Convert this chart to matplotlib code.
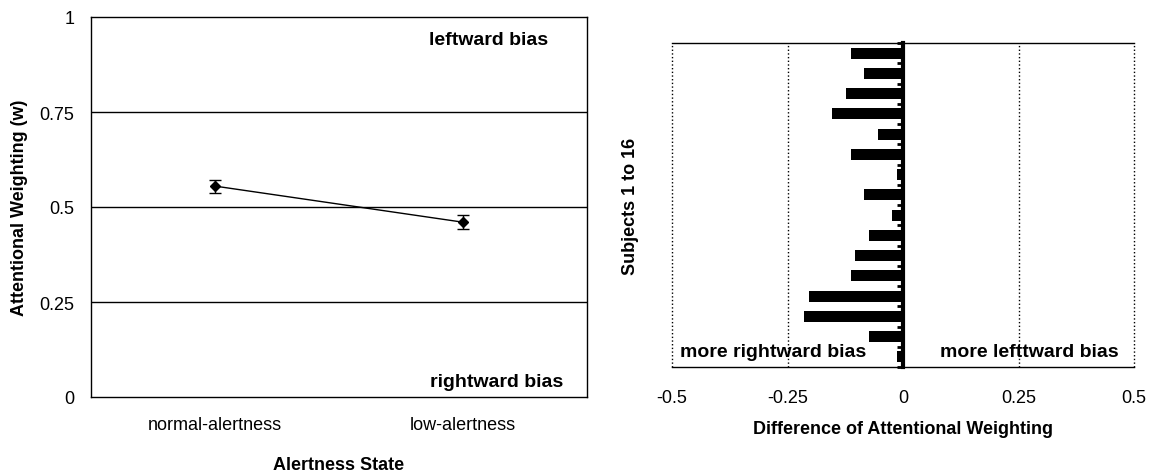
import matplotlib.pyplot as plt
import numpy as np

plt.rcParams['font.family'] = ['Liberation Sans', 'DejaVu Sans']

# left panel data
states = ['normal-alertness', 'low-alertness']
weights = [0.555, 0.46]
weight_err = [0.017, 0.018]

# right panel data (subject 1 at top, 16 at bottom)
subjects = list(range(1, 17))
differences = [-0.113, -0.084, -0.124, -0.154, -0.055, -0.113, -0.014, -0.084,
               -0.024, -0.073, -0.103, -0.113, -0.203, -0.214, -0.073, -0.014]

W, H = 1150, 477
fig = plt.figure(figsize=(W / 100, H / 100), dpi=100)

# ---- left panel ----
ax1 = fig.add_axes([91 / W, (H - 398) / H, 496 / W, 380 / H])
xpos = np.arange(1, len(states) + 1)
ax1.errorbar(xpos, weights, yerr=weight_err, color='black', marker='D',
             markersize=5.5, linewidth=1, capsize=4, capthick=1, elinewidth=1)
ax1.set_xlim(0.5, 2.5)
ax1.set_ylim(0, 1)
ax1.set_yticks([0, 0.25, 0.5, 0.75, 1])
ax1.set_yticklabels(['0', '0.25', '0.5', '0.75', '1'])
ax1.set_xticks(xpos)
ax1.set_xticklabels(states)
for yv in [0.25, 0.5, 0.75]:
    ax1.axhline(yv, color='black', linewidth=1, zorder=0)
ax1.tick_params(axis='y', length=0, pad=12, labelsize=13)
ax1.tick_params(axis='x', length=0, pad=14, labelsize=13)
for sp in ax1.spines.values():
    sp.set_linewidth(1)
ax1.set_xlabel('Alertness State', fontsize=13, fontweight='bold', labelpad=16)
ax1.set_ylabel('Attentional Weighting (w)', fontsize=13, fontweight='bold',
               labelpad=8)
ax1.text(2.104, 0.94, 'leftward bias', ha='center', va='center',
         fontsize=14, fontweight='bold')
ax1.text(2.136, 0.042, 'rightward bias', ha='center', va='center',
         fontsize=14, fontweight='bold')

# ---- right panel ----
ax2 = fig.add_axes([672 / W, (H - 368) / H, 462 / W, 324 / H])
ax2.barh(subjects, differences, height=0.55, color='black')
ax2.set_xlim(-0.5, 0.5)
ax2.set_ylim(16.5, 0.5)
ax2.set_xticks([-0.5, -0.25, 0, 0.25, 0.5])
ax2.set_xticklabels(['-0.5', '-0.25', '0', '0.25', '0.5'])
for xv in [-0.5, -0.25, 0.25, 0.5]:
    ax2.axvline(xv, linestyle=':', color='black', linewidth=1, clip_on=False,
                zorder=0)
ax2.spines['left'].set_position(('data', 0))
ax2.spines['left'].set_linewidth(3)
ax2.spines['right'].set_visible(False)
ax2.spines['top'].set_linewidth(1)
ax2.spines['bottom'].set_linewidth(1)
ax2.set_yticks(np.arange(0.5, 17, 1))
ax2.set_yticklabels([])
ax2.tick_params(axis='y', direction='out', length=4, width=2)
ax2.tick_params(axis='x', length=0, pad=16, labelsize=13)
ax2.set_xlabel('Difference of Attentional Weighting', fontsize=13,
               fontweight='bold', labelpad=10)
ax2.text(-0.281, 0.049, 'more rightward bias', transform=ax2.get_xaxis_transform(),
         ha='center', va='center', fontsize=14, fontweight='bold')
ax2.text(0.274, 0.049, 'more lefttward bias', transform=ax2.get_xaxis_transform(),
         ha='center', va='center', fontsize=14, fontweight='bold')
ax2.text(-0.09, 0.5, 'Subjects 1 to 16', transform=ax2.transAxes, rotation=90,
         ha='center', va='center', fontsize=13, fontweight='bold')

fig.savefig('out.png', dpi=100)
